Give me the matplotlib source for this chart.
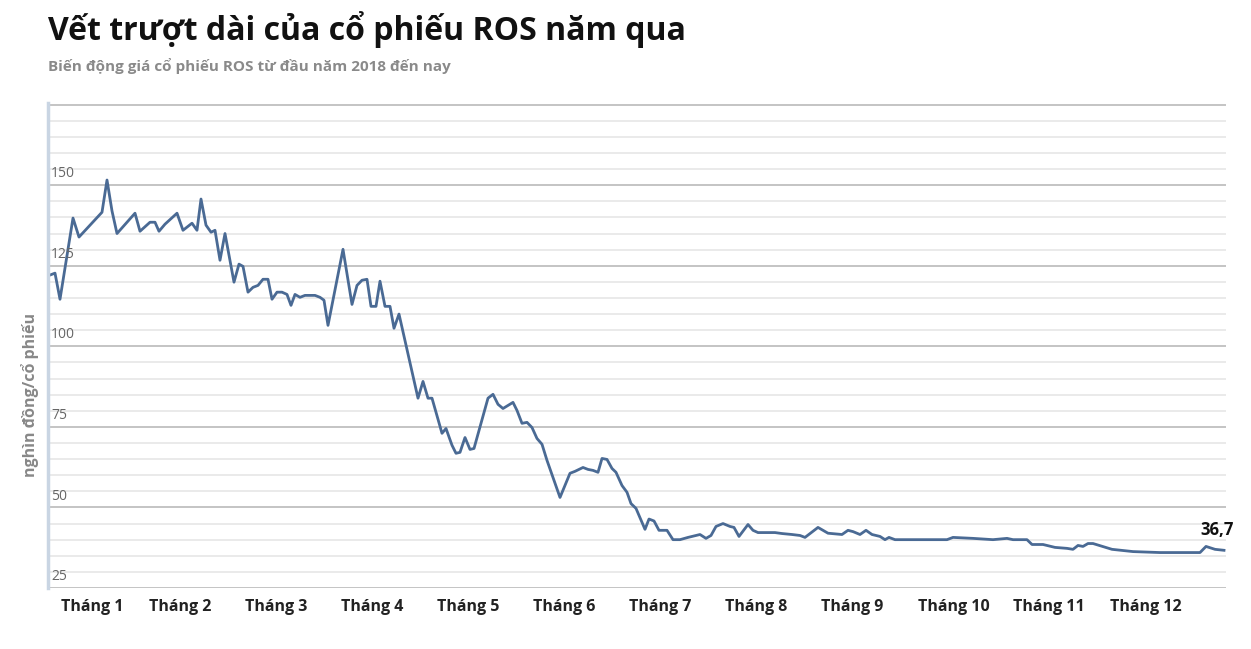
import matplotlib.pyplot as plt
from matplotlib.ticker import MultipleLocator

# horizontal position along the trading year (chart units), and price (nghìn đồng)
pos = [49, 55, 60, 73, 79, 102, 107, 112, 117, 135, 140, 150, 155, 159, 165, 177, 183,
       192, 197, 201, 206, 211, 215, 220, 225, 234, 239, 243, 248, 253, 258, 263, 268,
       272, 277, 282, 287, 291, 295, 300, 305, 315, 320, 324, 328, 343, 352, 357, 362,
       367, 371, 376, 380, 385, 390, 394, 399, 418, 423, 428, 432, 442, 446, 452, 456,
       460, 465, 470, 474, 488, 493, 498, 503, 513, 517, 522, 527, 532, 537, 542, 547,
       560, 570, 575, 583, 588, 593, 598, 602, 607, 612, 616, 622, 627, 631, 636, 645,
       649, 654, 659, 667, 673, 680, 688, 700, 706, 711, 716, 723, 730, 734, 739, 748,
       753, 758, 775, 782, 792, 800, 805, 818, 828, 842, 848, 853, 860, 866, 872, 880,
       885, 889, 895, 905, 923, 947, 953, 973, 993, 1007, 1013, 1027, 1032, 1043, 1055,
       1067, 1073, 1078, 1083, 1088, 1093, 1112, 1133, 1160, 1200, 1206, 1215, 1224]
price = [122, 122.7, 114.6, 139.8, 133.9, 141.6, 151.6, 142, 135, 141.3, 135.7, 138.5,
         138.5, 135.7, 137.9, 141.3, 136, 138.2, 136, 145.7, 137.6, 135.4, 136, 126.7,
         135, 119.9, 125.5, 124.8, 116.8, 118.3, 118.9, 120.8, 120.8, 114.6, 116.8, 116.8,
         116.1, 112.7, 116.1, 115.2, 115.8, 115.8, 115.2, 114.3, 106.5, 130.1, 113, 118.9,
         120.5, 120.8, 112.4, 112.4, 120.2, 112.4, 112.4, 105.6, 110, 83.9, 89.1, 83.9,
         83.9, 73, 74.5, 69.3, 66.8, 67.1, 71.7, 68, 68.3, 83.9, 85.1, 82, 80.7, 82.6,
         80.1, 76.1, 76.4, 74.8, 71.4, 69.6, 64.6, 53.1, 60.6, 61.2, 62.4, 61.8, 61.5,
         60.9, 65.2, 64.9, 62.1, 60.9, 56.8, 54.7, 51.2, 49.7, 43.2, 46.4, 45.8, 42.9,
         42.9, 40, 40, 40.7, 41.6, 40.4, 41.3, 44.1, 45, 44.1, 43.8, 41, 44.7, 42.9,
         42.2, 42.2, 41.9, 41.6, 41.3, 40.7, 43.8, 42, 41.6, 42.9, 42.5, 41.6, 42.9, 41.6,
         41, 40, 40.7, 40, 40, 40, 40, 40.7, 40.4, 40, 40.4, 40, 40, 38.5, 38.5, 37.6,
         37.3, 37, 38.2, 37.9, 38.8, 38.8, 37, 36.3, 36, 36, 37.9, 37, 36.7]

months = ["Tháng %d" % m for m in range(1, 13)]
month_pos = [92, 180, 276, 372, 468, 564, 660, 756, 852, 954, 1049, 1146]
y_labels = [25, 50, 75, 100, 125, 150]

plt.rcParams["font.family"] = ["Open Sans", "DejaVu Sans"]

fig = plt.figure(figsize=(12.51, 6.49), dpi=100)
ax = fig.add_axes([48 / 1251, 61 / 649, 1178 / 1251, 485 / 649])
ax.set_xlim(48, 1226)
ax.set_ylim(25, 175.5)

ax.yaxis.set_minor_locator(MultipleLocator(5))
ax.yaxis.set_major_locator(MultipleLocator(25))
ax.grid(which="minor", axis="y", color="#e6e6e6", linewidth=1.2)
ax.grid(which="major", axis="y", color="#c4c4c4", linewidth=1.4)
ax.set_axisbelow(True)
ax.tick_params(axis="y", which="both", length=0, labelleft=False)
ax.tick_params(axis="x", length=0, pad=8)
for side in ("top", "right", "bottom"):
    ax.spines[side].set_visible(False)
ax.spines["left"].set_color("#c9d5e3")
ax.spines["left"].set_linewidth(2.5)

for v in y_labels:
    ax.text(51, v + 1.2, str(v), color="#666666", fontsize=10, va="bottom", ha="left")

ax.set_xticks(month_pos)
ax.set_xticklabels(months, fontsize=11.5, fontweight="bold", color="#222222")

ax.plot(pos, price, color="#4a6a94", linewidth=2)
ax.text(1200, price[-1] + 3.5, "36,7", fontsize=12, fontweight="bold", color="#111111",
        ha="left", va="bottom")

fig.text(30 / 1251, 1 - 395 / 649, "nghìn đồng/cổ phiếu", rotation=90, fontsize=11.5,
         fontweight="bold", color="#888888", ha="center", va="center")
fig.text(48 / 1251, 1 - 30 / 649, "Vết trượt dài của cổ phiếu ROS năm qua", fontsize=23,
         fontweight="bold", color="#111111", ha="left", va="center")
fig.text(48 / 1251, 1 - 66 / 649, "Biến động giá cổ phiếu ROS từ đầu năm 2018 đến nay",
         fontsize=11, fontweight="bold", color="#8a8a8a", ha="left", va="center")

fig.savefig("out.png", dpi=100, facecolor="white")
